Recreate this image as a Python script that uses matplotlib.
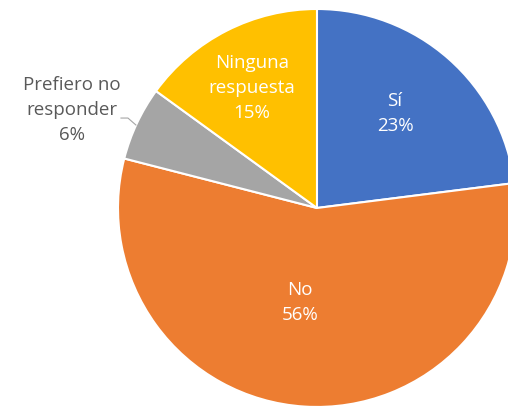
import matplotlib
matplotlib.use("Agg")
import matplotlib.pyplot as plt

categories = ["Sí", "No", "Prefiero no\nresponder", "Ninguna\nrespuesta"]
values = [23, 56, 6, 15]
colors = ["#4472C4", "#ED7D31", "#A5A5A5", "#FFC000"]
text_colors = ["white", "white", "#595959", "white"]
label_pos = [(0.392, 0.477), (-0.085, -0.477), (-1.231, 0.49), (-0.327, 0.603)]

fig = plt.figure(figsize=(5.08, 4.09), dpi=100)
ax = fig.add_axes([0, 0, 1, 1])
wedges, _ = ax.pie(values, colors=colors, startangle=90, counterclock=False,
                   radius=1.0, center=(0, 0),
                   wedgeprops=dict(edgecolor="white", linewidth=1.5))
for cat, v, tc, (x, y) in zip(categories, values, text_colors, label_pos):
    ax.text(x, y, f"{cat}\n{v}%", ha="center", va="center", color=tc,
            fontsize=13.5, family="Open Sans", linespacing=1.5)

# leader line for the outside label
ax.plot([-0.985, -0.95, -0.91], [0.452, 0.452, 0.417], color="#A6A6A6", lw=0.8)

ax.set_xlim(-1.593, 0.960)
ax.set_ylim(-1.010, 1.045)
ax.set_aspect("equal")
ax.axis("off")
fig.savefig("out.png", dpi=100)
